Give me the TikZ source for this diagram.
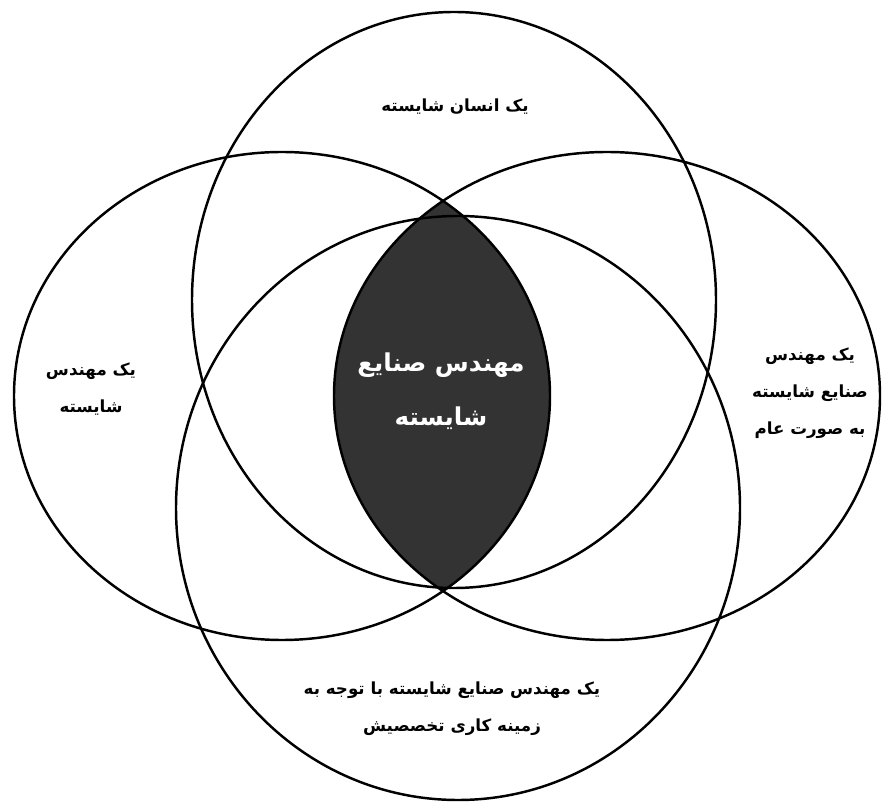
\documentclass[tikz,border=0pt]{standalone}
\usepackage{fontspec}
\usepackage{tikz}
\newfontfamily\persian[Script=Arabic]{DejaVu Sans}
\TeXXeTstate=1

\begin{document}
\begin{tikzpicture}[x=0.02cm,y=0.02cm,
    ring/.style={line width=1.4pt},
    lens/.style={fill=black!80},
    tag/.style={font=\persian\bfseries\fontsize{9.5}{21}\selectfont,align=center},
    core/.style={font=\persian\bfseries\fontsize{14}{31}\selectfont,align=center,text=white}]
  \useasboundingbox (0,0) rectangle (882,808);
  % shaded core: left ring cut by right ring
  \begin{scope}
    \clip (282,412) ellipse [x radius=268, y radius=244];
    \fill[lens] (607,412) ellipse [x radius=273, y radius=244];
  \end{scope}
  \draw[ring] (454,508) ellipse [x radius=262, y radius=288];
  \draw[ring] (282,412) ellipse [x radius=268, y radius=244];
  \draw[ring] (607,412) ellipse [x radius=273, y radius=244];
  \draw[ring] (458,300) ellipse [x radius=282, y radius=292];
  \node[tag] (human) at (455,701) {\beginR یک انسان شایسته\endR};
  \node[tag] (eng) at (91,419) {\beginR یک مهندس\endR\\\beginR شایسته\endR};
  \node[tag] (general) at (810,415) {\beginR یک مهندس\endR\\\beginR صنایع شایسته\endR\\\beginR به صورت عام\endR};
  \node[core] (ie) at (441,417) {\beginR مهندس صنایع\endR\\\beginR شایسته\endR};
  \node[tag] (field) at (452,99) {\beginR یک مهندس صنایع شایسته با توجه به\endR\\\beginR زمینه کاری تخصصیش\endR};
\end{tikzpicture}
\end{document}
